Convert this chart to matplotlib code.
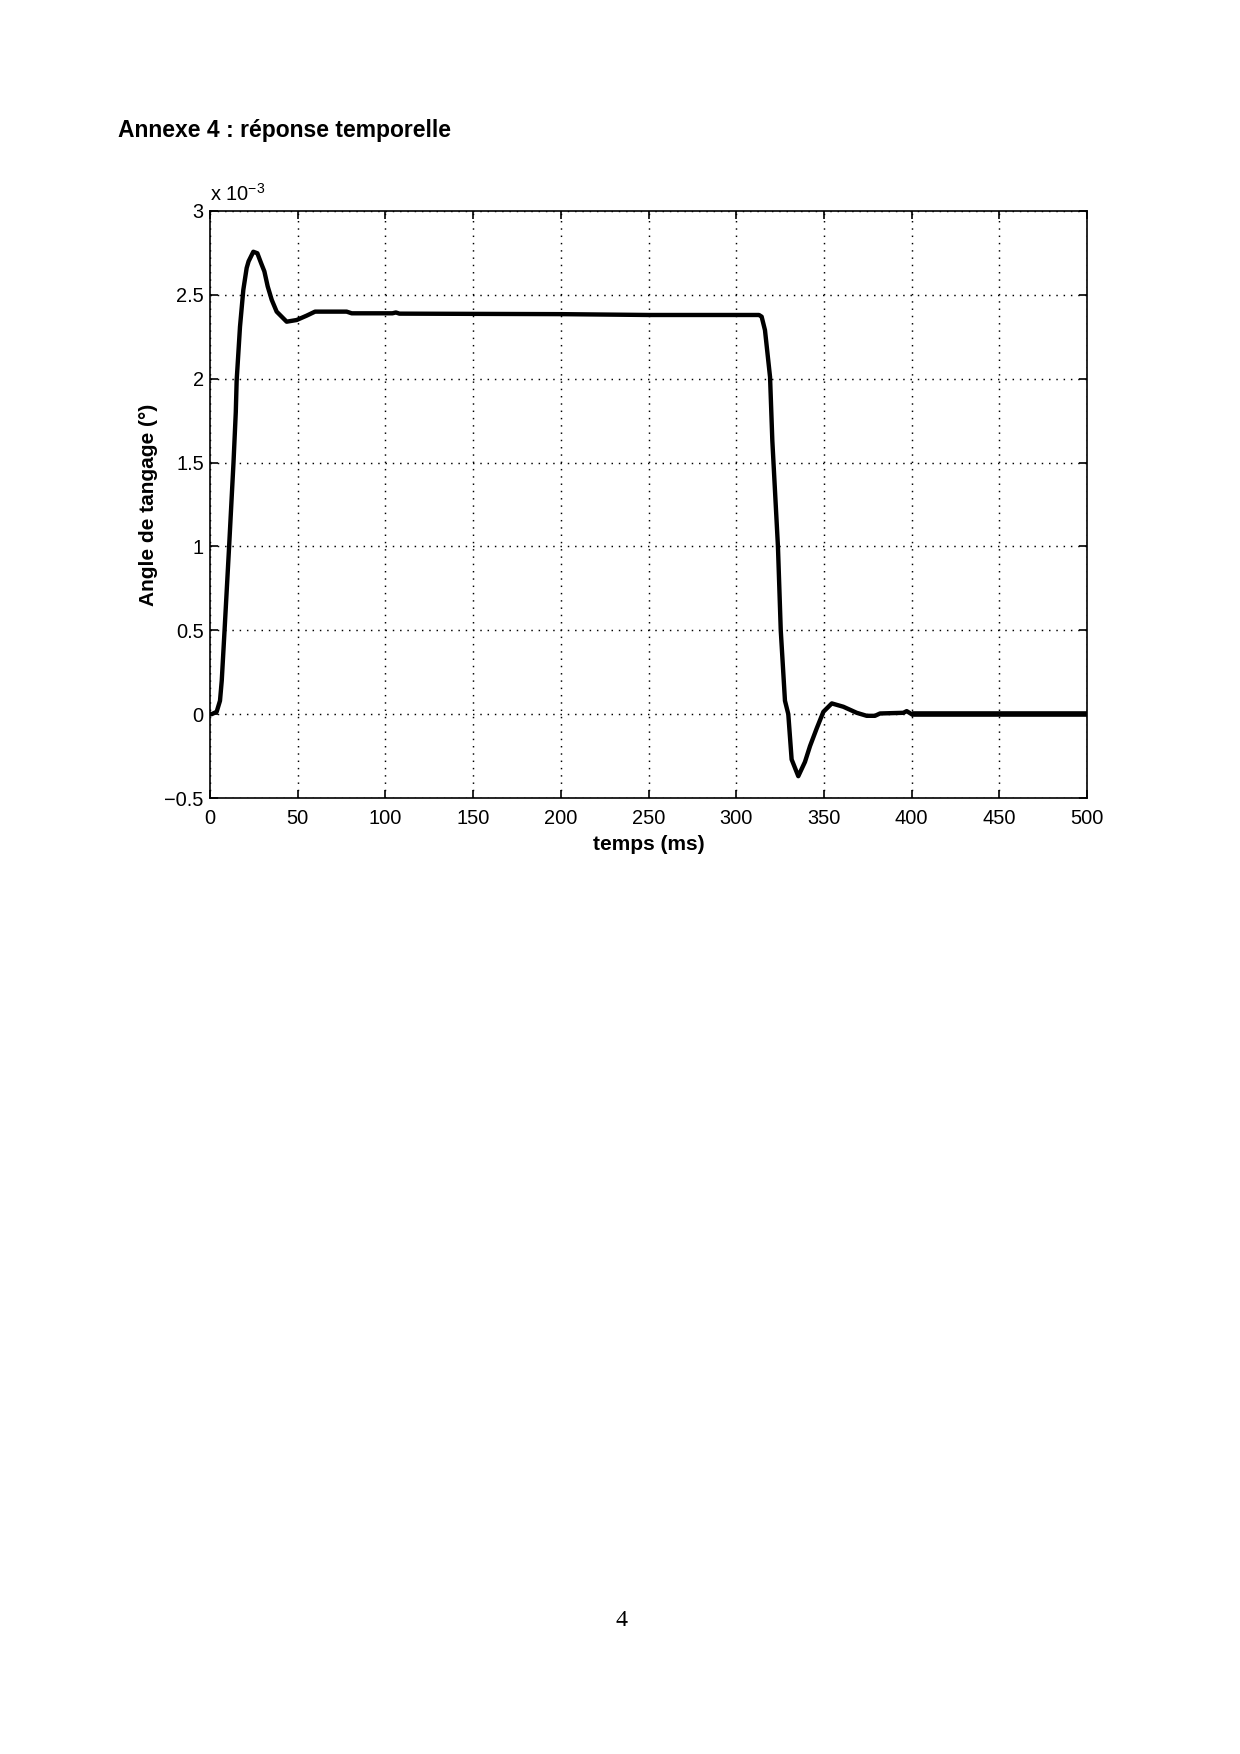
import matplotlib
matplotlib.use("Agg")
import matplotlib.pyplot as plt

plt.rcParams['font.family'] = ['Liberation Sans', 'DejaVu Sans']
plt.rcParams['mathtext.fontset'] = 'custom'
plt.rcParams['mathtext.rm'] = 'Liberation Sans'

# temps (ms) et angle de tangage (x 1e-3 degres)
temps = [0, 1, 3.8, 5.7, 6.7, 8.3, 10.9, 13.4, 14.7, 15.2, 17.1, 19, 20.9, 22,
         24.7, 27, 29.1, 31, 32.9, 35.2, 38, 43.7, 49.4, 55.1, 59.9, 77.9, 80.8,
         104, 106, 108, 200, 250, 313, 314.5, 316.4, 319.3, 320.6, 323.8, 325.4,
         327.8, 329.7, 331.6, 335.4, 339.2, 342.1, 345.9, 349.7, 354.5, 361.1,
         368.7, 374.4, 379.1, 382, 395.3, 397.2, 400]
angle = [0, 0, 0.014, 0.08, 0.2, 0.5, 1.0, 1.5, 1.8, 1.99, 2.31, 2.53, 2.66, 2.70,
         2.757, 2.748, 2.69, 2.64, 2.55, 2.47, 2.40, 2.34, 2.35, 2.376, 2.40, 2.40,
         2.39, 2.39, 2.395, 2.388, 2.385, 2.38, 2.38, 2.37, 2.29, 2.01, 1.63, 1.0, 0.5,
         0.08, 0.0, -0.27, -0.37, -0.285, -0.19, -0.085, 0.014, 0.064, 0.044,
         0.008, -0.01, -0.01, 0.004, 0.008, 0.018, 0]
temps_fin = [400, 500]
angle_fin = [0, 0]

xticks = [0, 50, 100, 150, 200, 250, 300, 350, 400, 450, 500]
yticks = [-0.5, 0, 0.5, 1, 1.5, 2, 2.5, 3]
ylabels = ['\u22120.5', '0', '0.5', '1', '1.5', '2', '2.5', '3']

fig = plt.figure(figsize=(1240 / 150, 1754 / 150), dpi=150)
ax = fig.add_axes([210 / 1240, 1 - 798 / 1754, 877 / 1240, 587 / 1754])

ax.plot(temps, angle, color='black', lw=2.1, solid_joinstyle='round')
ax.plot(temps_fin, angle_fin, color='black', lw=2.7, solid_capstyle='butt')

ax.set_xlim(0, 500)
ax.set_ylim(-0.5, 3)
ax.set_xticks(xticks)
ax.set_yticks(yticks)
ax.set_yticklabels(ylabels)
ax.tick_params(direction='in', length=4, width=0.8, top=True, right=True,
               labelsize=9.6, pad=3)
ax.tick_params(axis='x', pad=5.5)
ax.grid(True, color='black', linestyle=(0, (1, 4)), linewidth=0.7)
for s in ax.spines.values():
    s.set_linewidth(0.8)

ax.set_xlabel('temps (ms)', fontsize=10, fontweight='bold', labelpad=3)
ax.set_ylabel('Angle de tangage (°)', fontsize=10, fontweight='bold', labelpad=3)
ax.text(0, 1.01, r'x 10$^{-3}$', transform=ax.transAxes, fontsize=9.6,
        ha='left', va='bottom')

fig.text(118 / 1240, 1 - 131 / 1754, 'Annexe 4 : réponse temporelle',
         fontsize=11, fontweight='bold', ha='left', va='center')
fig.text(621 / 1240, 1 - 1621 / 1754, '4', fontsize=11.5,
         family='Liberation Serif', ha='center', va='center')

fig.savefig('out.png', dpi=150)
